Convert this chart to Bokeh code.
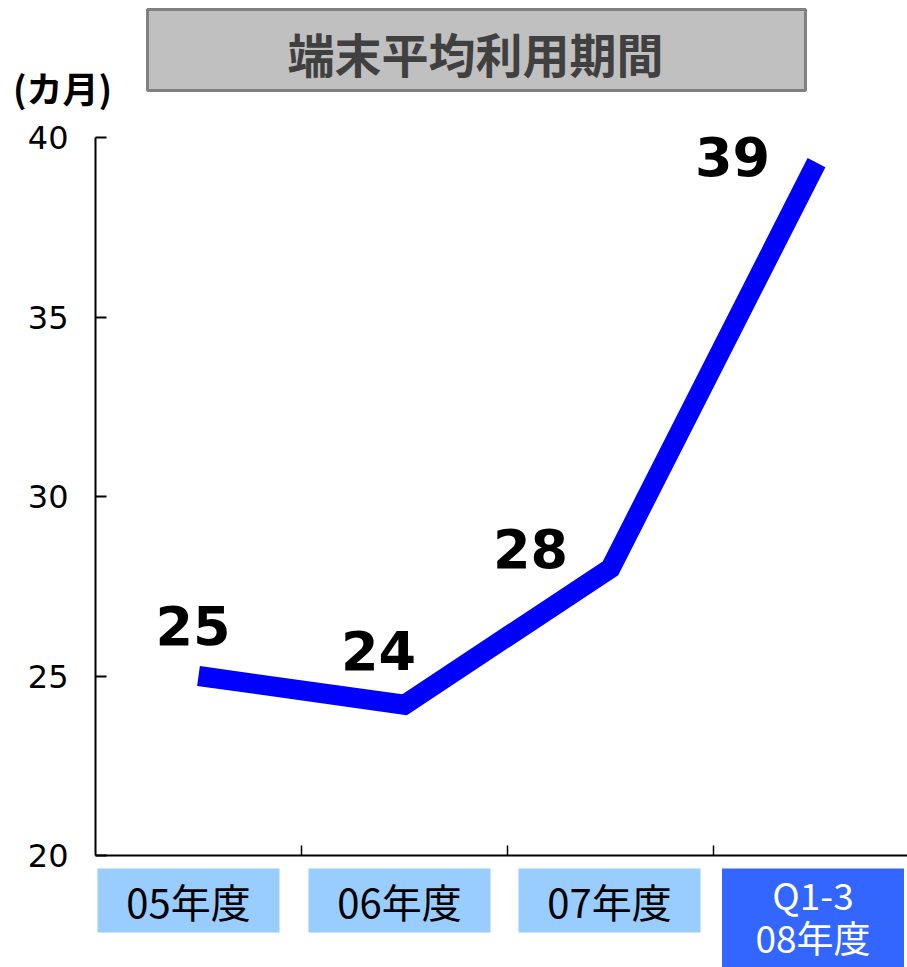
from bokeh.plotting import figure
from bokeh.models import (LinearAxis, FixedTicker, Range1d, ColumnDataSource)
from bokeh.core.properties import value
from bokeh.embed import file_html
from bokeh.resources import INLINE

# ---- data ----
categories = ["05年度", "06年度", "07年度", "Q1-3\n08年度"]
months = [25.0, 24.2, 28.0, 39.3]
value_labels = ["25", "24", "28", "39"]
y_ticks = [20, 25, 30, 35, 40]
title_text = "端末平均利用期間"
unit_text = "(カ月)"

# ---- layout constants (pixels) ----
W, H = 907, 967
AX_X = 95          # canvas x of y axis
SLOT = 206         # pixel width of a category slot
Y20, Y40 = 855, 137
PPU = (Y20 - Y40) / 20.0

def xd(px):
    return (px - AX_X) / SLOT

def yd(py):
    return 20 + (Y20 - py) / PPU

p = figure(width=W, height=H, output_backend="svg", toolbar_location=None,
           x_axis_type=None, y_axis_type=None,
           x_range=Range1d(xd(0), xd(W)), y_range=Range1d(yd(H), yd(0)),
           min_border=0, outline_line_color=None)
p.xgrid.visible = False
p.ygrid.visible = False
p.background_fill_color = "white"

# y axis
yaxis = LinearAxis(fixed_location=0, ticker=FixedTicker(ticks=y_ticks), bounds=(20, 40))
yaxis.major_tick_in = 11
yaxis.major_tick_out = 0
yaxis.minor_tick_line_color = None
yaxis.axis_line_width = 2
yaxis.major_tick_line_width = 2
yaxis.major_label_standoff = 27
yaxis.major_label_text_font = "DejaVu Sans"
yaxis.major_label_text_font_size = "32px"
yaxis.major_label_text_color = "black"
p.add_layout(yaxis, "left")

# x axis
n = len(categories)
xaxis = LinearAxis(fixed_location=20, ticker=FixedTicker(ticks=list(range(1, n))),
                   bounds=(0, xd(W)))
xaxis.major_tick_in = 10
xaxis.major_tick_out = 0
xaxis.minor_tick_line_color = None
xaxis.axis_line_width = 2
xaxis.major_tick_line_width = 1.5
xaxis.major_label_overrides = {i: "" for i in range(1, n)}
p.add_layout(xaxis, "below")

# main line
xs = [i + 0.5 for i in range(n)]
src = ColumnDataSource(dict(x=xs, y=months, lab=value_labels,
                            xo=[-5.5, -26, -80, -84], yo=[-51, -54, -20, -6]))
p.line("x", "y", source=src, line_width=20, line_color="#0000ff",
       line_join="miter", line_cap="butt")
p.text("x", "y", text="lab", source=src, x_offset="xo", y_offset="yo",
       text_font=value("DejaVu Sans"), text_font_style="bold",
       text_font_size="54px", text_color="black",
       text_align="center", text_baseline="alphabetic")

# category boxes
shift = [-10, -5, -1, -3.5]
half = 91 / SLOT
lefts = [xs[i] + shift[i] / SLOT - half for i in range(n)]
rights = [xs[i] + shift[i] / SLOT + half for i in range(n)]
tops = [yd(868)] * n
bottoms = [yd(932)] * (n - 1) + [yd(H)]
fills = ["#99ccff"] * (n - 1) + ["#3366ff"]
tcols = ["black"] * (n - 1) + ["white"]
p.quad(left=lefts, right=rights, top=tops, bottom=bottoms,
       fill_color=fills, line_color=None)

# category texts: split multi-line labels into separate lines
tx, ty, tt, tc, to, ts = [], [], [], [], [], []
for i, cat in enumerate(categories):
    lines = cat.split("\n")
    k = len(lines)
    cx = (lefts[i] + rights[i]) / 2
    cy = (tops[i] + bottoms[i]) / 2 + (3 / PPU if k > 1 else 0)
    for j, ln in enumerate(lines):
        tx.append(cx)
        ty.append(cy)
        tt.append(ln)
        tc.append(tcols[i])
        to.append((j - (k - 1) / 2) * 43)
        ts.append("40px" if k == 1 else "37px")
tsrc = ColumnDataSource(dict(x=tx, y=ty, t=tt, c=tc, o=to, s=ts))
p.text("x", "y", text="t", source=tsrc, text_color="c", y_offset="o",
       text_font=value("Noto Sans CJK JP"), text_font_size="s",
       text_align="center", text_baseline="middle")

# title box
p.quad(left=[xd(147)], right=[xd(805)], top=[yd(9)], bottom=[yd(90)],
       fill_color="#c0c0c0", line_color="#808080", line_width=3)
p.text([xd(475)], [yd(52)], text=[title_text], text_color="#404040",
       text_font=value("Noto Sans CJK JP"), text_font_style="bold",
       text_font_size="47px", text_align="center", text_baseline="middle")

# unit label
p.text([xd(62)], [yd(86)], text=[unit_text], text_color="black",
       text_font=value("Noto Sans CJK JP"), text_font_style="bold",
       text_font_size="36px", text_align="center", text_baseline="middle")

open("out.html", "w").write(file_html(p, INLINE))
